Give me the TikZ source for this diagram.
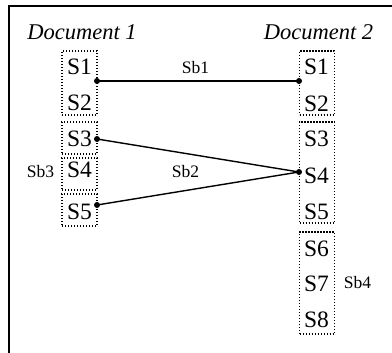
\documentclass[tikz,border=0pt]{standalone}
\usepackage{fontspec}
\setmainfont{Liberation Serif}
\begin{document}
\begin{tikzpicture}[x=1pt,y=-1pt,
 sent/.style={anchor=base,inner sep=0pt,font=\fontsize{23.5}{23.5}\selectfont},
 lab/.style={anchor=base,inner sep=0pt,font=\fontsize{17.5}{17.5}\selectfont},
 doc/.style={anchor=base,inner sep=0pt,font=\fontsize{22.5}{22.5}\selectfont\itshape},
 dbox/.style={draw,line width=1.4pt,dash pattern=on 1.3pt off 1.7pt,inner sep=0pt,minimum width=35pt},
 link/.style={line width=1.4pt},
 dot/.style={circle,fill,inner sep=0pt,minimum size=6pt}]
\useasboundingbox (0,0) rectangle (392,353);
\draw[line width=1.6pt] (392,6) -- (9,6) -- (9,353);
% titles
\node[doc] (t1) at (82,40) {Document 1};
\node[doc] (t2) at (318.5,40) {Document 2};
% boxes
\node[dbox,minimum height=64pt] (L1) at (79.5,83) {};
\node[dbox,minimum height=32pt] (L2) at (79.5,138) {};
\node[dbox,minimum height=32pt] (L3) at (79.5,174) {};
\node[dbox,minimum height=32pt] (L4) at (79.5,210) {};
\node[dbox,minimum height=64pt] (R1) at (317,83) {};
\node[dbox,minimum height=101pt] (R2) at (317,172.5) {};
\node[dbox,minimum height=102pt] (R3) at (317,283) {};
% sentences
\node[sent] (l1) at (79.5,75) {S1};
\node[sent] (l2) at (79.5,111) {S2};
\node[sent] (l3) at (79.5,147) {S3};
\node[sent] (l4) at (79.5,178) {S4};
\node[sent] (l5) at (79.5,220) {S5};
\node[sent] (r1) at (316.5,75) {S1};
\node[sent] (r2) at (316.5,112) {S2};
\node[sent] (r3) at (316.5,147) {S3};
\node[sent] (r4) at (316.5,184) {S4};
\node[sent] (r5) at (316.5,220) {S5};
\node[sent] (r6) at (316.5,257) {S6};
\node[sent] (r7) at (316.5,292) {S7};
\node[sent] (r8) at (316.5,328) {S8};
% labels
\node[lab] (sb1) at (195.5,74) {Sb1};
\node[lab] (sb2) at (185.5,178) {Sb2};
\node[lab] (sb3) at (40.5,178) {Sb3};
\node[lab] (sb4) at (357.5,289) {Sb4};
% dots
\node[dot] (a1) at (97,81) {};
\node[dot] (a3) at (97,139) {};
\node[dot] (a5) at (97,205) {};
\node[dot] (b1) at (299,81) {};
\node[dot] (b4) at (299,172) {};
% links
\draw[link] (a1.center) -- (b1.center);
\draw[link] (a3.center) -- (b4.center);
\draw[link] (a5.center) -- (b4.center);
\end{tikzpicture}
\end{document}
